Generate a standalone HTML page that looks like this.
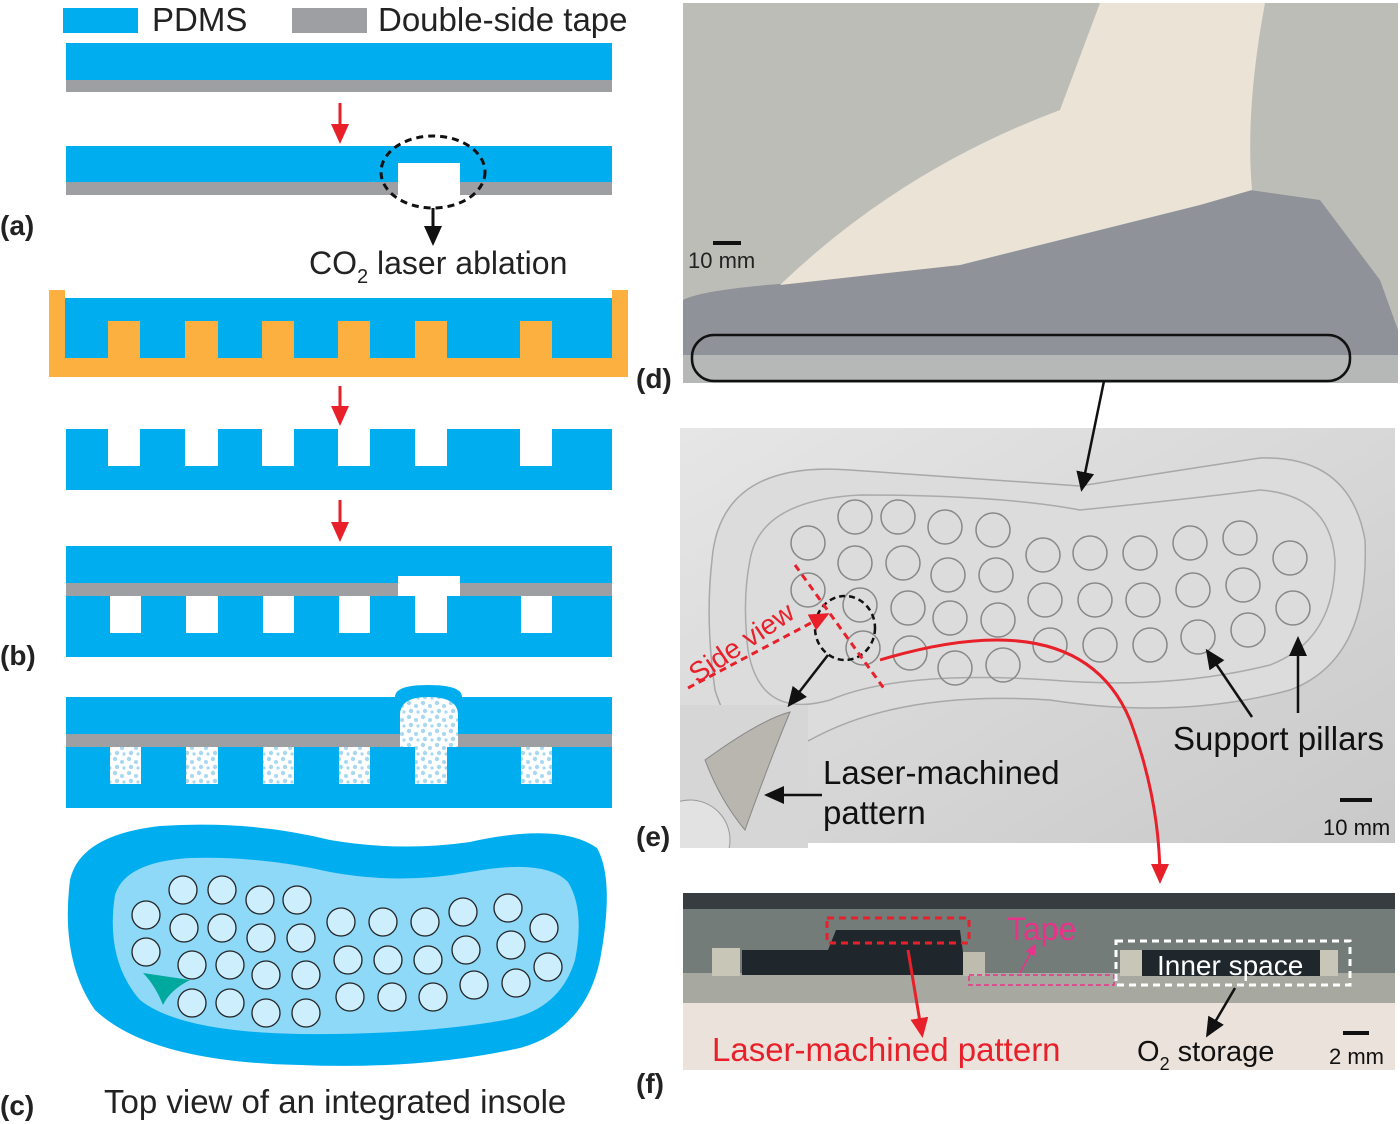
<!DOCTYPE html>
<html><head><meta charset="utf-8"><style>
html,body{margin:0;padding:0;background:#fff}
svg{display:block}
text{font-family:"Liberation Sans",Arial,sans-serif}
</style></head><body>
<svg width="1400" height="1124" viewBox="0 0 1400 1124" xmlns="http://www.w3.org/2000/svg">
<defs>
<marker id="ar" markerWidth="20" markerHeight="20" refX="16" refY="9" orient="auto" markerUnits="userSpaceOnUse"><path d="M0,0 L20,9 L0,18 Z" fill="#e8202a"/></marker>
<marker id="ak" markerWidth="20" markerHeight="20" refX="16" refY="9" orient="auto" markerUnits="userSpaceOnUse"><path d="M0,0 L20,9 L0,18 Z" fill="#111"/></marker>
<marker id="am" markerWidth="12" markerHeight="12" refX="10" refY="5" orient="auto" markerUnits="userSpaceOnUse"><path d="M0,0 L12,5 L0,10 Z" fill="#e8338a"/></marker>
<pattern id="dots" width="14" height="14" patternUnits="userSpaceOnUse"><rect width="14" height="14" fill="#fff"/><circle cx="3" cy="3" r="2.2" fill="#a8d8f0"/><circle cx="10" cy="6" r="2" fill="#a8d8f0"/><circle cx="5" cy="11" r="2.2" fill="#a8d8f0"/><circle cx="12" cy="12" r="1.6" fill="#a8d8f0"/></pattern>
<linearGradient id="ge" x1="0" y1="0" x2="1" y2="1"><stop offset="0" stop-color="#e6e6e6"/><stop offset="1" stop-color="#c9c9c9"/></linearGradient>
<clipPath id="ci"><rect x="680" y="705" width="128" height="143"/></clipPath>
</defs>

<!-- legend -->
<rect x="63" y="8" width="75" height="25" fill="#00aeef"/>
<text x="152" y="31" font-size="33" fill="#222">PDMS</text>
<rect x="292" y="8" width="75" height="25" fill="#9d9fa2"/>
<text x="378" y="31" font-size="33" fill="#222">Double-side tape</text>

<!-- a -->
<rect x="66" y="43" width="546" height="37" fill="#00aeef"/>
<rect x="66" y="80" width="546" height="12" fill="#9d9fa2"/>
<line x1="340" y1="103" x2="340" y2="140" stroke="#e8202a" stroke-width="3" marker-end="url(#ar)"/>
<rect x="66" y="146" width="546" height="36" fill="#00aeef"/>
<rect x="66" y="182" width="546" height="13" fill="#9d9fa2"/>
<rect x="398" y="163" width="62" height="32" fill="#fff"/>
<ellipse cx="433" cy="172" rx="52" ry="36" fill="none" stroke="#111" stroke-width="3" stroke-dasharray="7,5"/>
<line x1="433" y1="208" x2="433" y2="242" stroke="#111" stroke-width="3" marker-end="url(#ak)"/>
<text x="309" y="274" font-size="32" fill="#222">CO<tspan font-size="20" dy="9">2</tspan><tspan dy="-9"> laser ablation</tspan></text>
<text x="0" y="235" font-size="28" font-weight="bold" fill="#222">(a)</text>

<!-- mold -->
<rect x="49" y="290" width="16" height="87" fill="#fbb040"/>
<rect x="612" y="290" width="16" height="87" fill="#fbb040"/>
<rect x="49" y="358" width="579" height="19" fill="#fbb040"/>
<rect x="65" y="298" width="547" height="60" fill="#00aeef"/>
<g fill="#fbb040">
<rect x="108" y="321" width="32" height="37"/><rect x="185" y="321" width="33" height="37"/><rect x="262" y="321" width="32" height="37"/><rect x="338" y="321" width="32" height="37"/><rect x="415" y="321" width="32" height="37"/><rect x="520" y="321" width="32" height="37"/>
</g>
<line x1="340" y1="386" x2="340" y2="422" stroke="#e8202a" stroke-width="3" marker-end="url(#ar)"/>
<rect x="66" y="429" width="546" height="61" fill="#00aeef"/>
<g fill="#fff">
<rect x="108" y="429" width="32" height="37"/><rect x="185" y="429" width="33" height="37"/><rect x="262" y="429" width="32" height="37"/><rect x="338" y="429" width="32" height="37"/><rect x="415" y="429" width="32" height="37"/><rect x="520" y="429" width="32" height="37"/>
</g>
<line x1="340" y1="500" x2="340" y2="538" stroke="#e8202a" stroke-width="3" marker-end="url(#ar)"/>

<!-- assembly -->
<rect x="66" y="546" width="546" height="37" fill="#00aeef"/>
<rect x="66" y="583" width="546" height="13" fill="#9d9fa2"/>
<rect x="66" y="596" width="546" height="61" fill="#00aeef"/>
<g fill="#fff">
<rect x="110" y="596" width="31" height="37"/><rect x="186" y="596" width="32" height="37"/><rect x="263" y="596" width="31" height="37"/><rect x="339" y="596" width="31" height="37"/><rect x="415" y="596" width="32" height="37"/><rect x="521" y="596" width="31" height="37"/>
<rect x="398" y="576" width="62" height="20"/>
</g>
<text x="0" y="665" font-size="28" font-weight="bold" fill="#222">(b)</text>

<!-- filled -->
<path d="M395,697 Q395,685 428,685 Q462,685 462,697 Z" fill="#00aeef"/>
<rect x="66" y="697" width="546" height="37" fill="#00aeef"/>
<rect x="66" y="734" width="546" height="13" fill="#9d9fa2"/>
<rect x="66" y="747" width="546" height="61" fill="#00aeef"/>
<g fill="url(#dots)">
<rect x="110" y="747" width="31" height="37"/><rect x="186" y="747" width="32" height="37"/><rect x="263" y="747" width="31" height="37"/><rect x="339" y="747" width="31" height="37"/><rect x="415" y="747" width="32" height="37"/><rect x="521" y="747" width="31" height="37"/>
<path d="M400,747 L400,715 Q400,697 428,697 Q458,697 458,715 L458,747 Z"/>
</g>

<!-- c -->
<path d="M70,880 Q80,835 160,826 Q250,820 330,840 Q400,852 470,842 Q560,822 597,848 Q615,880 600,960 Q585,1030 520,1048 Q420,1070 300,1065 Q150,1062 95,1010 Q60,960 70,880 Z" fill="#00aeef"/>
<path d="M115,895 Q125,862 190,858 Q260,856 330,872 Q400,885 470,872 Q545,858 568,882 Q585,910 575,960 Q560,1010 505,1020 Q420,1035 300,1034 Q180,1032 140,1000 Q105,960 115,895 Z" fill="#8ed8f8"/>
<g fill="#cdeefc" stroke="#222" stroke-width="1.3">
<circle cx="183" cy="890" r="14"/><circle cx="222" cy="890" r="14"/><circle cx="260" cy="900" r="14"/><circle cx="297" cy="900" r="14"/>
<circle cx="146" cy="915" r="14"/><circle cx="184" cy="928" r="14"/><circle cx="222" cy="928" r="14"/><circle cx="261" cy="938" r="14"/><circle cx="301" cy="938" r="14"/><circle cx="341" cy="922" r="14"/><circle cx="383" cy="922" r="14"/><circle cx="425" cy="922" r="14"/><circle cx="463" cy="912" r="14"/><circle cx="508" cy="908" r="14"/>
<circle cx="146" cy="952" r="14"/><circle cx="192" cy="965" r="14"/><circle cx="230" cy="965" r="14"/><circle cx="266" cy="975" r="14"/><circle cx="306" cy="975" r="14"/><circle cx="348" cy="960" r="14"/><circle cx="388" cy="960" r="14"/><circle cx="428" cy="960" r="14"/><circle cx="466" cy="950" r="14"/><circle cx="511" cy="945" r="14"/><circle cx="544" cy="928" r="14"/>
<circle cx="192" cy="1003" r="14"/><circle cx="230" cy="1003" r="14"/><circle cx="266" cy="1013" r="14"/><circle cx="306" cy="1013" r="14"/><circle cx="350" cy="997" r="14"/><circle cx="392" cy="997" r="14"/><circle cx="433" cy="997" r="14"/><circle cx="474" cy="985" r="14"/><circle cx="516" cy="983" r="14"/><circle cx="548" cy="967" r="14"/>
</g>
<path d="M143,973 L190,980 Q170,990 163,1005 Q155,985 143,973 Z" fill="#00a99d"/>
<text x="104" y="1113" font-size="33" fill="#222">Top view of an integrated insole</text>
<text x="0" y="1115" font-size="28" font-weight="bold" fill="#222">(c)</text>

<!-- d photo -->
<rect x="683" y="3" width="715" height="380" fill="#bdbdb8"/>
<path d="M683,300 Q700,290 790,283 L960,265 L1250,190 L1320,200 L1380,280 L1398,330 L1398,365 L683,365 Z" fill="#8f9298"/>
<path d="M1100,3 L1265,3 Q1245,110 1252,190 L1200,205 L960,265 L780,285 Q900,170 1060,110 Z" fill="#ebe3d6"/>
<rect x="683" y="355" width="715" height="28" fill="#b6b8b7"/>
<rect x="692" y="335" width="658" height="46" rx="22" fill="none" stroke="#111" stroke-width="2.5"/>
<rect x="713" y="241" width="28" height="4" fill="#111"/>
<text x="688" y="268" font-size="22" fill="#222">10 mm</text>
<text x="636" y="388" font-size="28" font-weight="bold" fill="#222">(d)</text>

<!-- e photo -->
<rect x="680" y="428" width="715" height="415" fill="url(#ge)"/>
<path d="M712,560 Q720,460 850,470 Q1000,480 1080,486 Q1180,470 1260,458 Q1350,455 1365,540 Q1370,660 1290,690 Q1180,720 1050,700 Q900,690 810,740 Q740,770 715,690 Q705,620 712,560 Z" fill="#dcdcdc" stroke="#a8a8a8" stroke-width="1.5"/>
<path d="M750,560 Q760,500 860,495 Q1000,495 1080,510 Q1180,500 1260,490 Q1330,495 1335,560 Q1335,640 1270,665 Q1170,690 1050,680 Q900,670 830,700 Q760,720 748,650 Q742,600 750,560 Z" fill="none" stroke="#aaa" stroke-width="1.5"/>
<g fill="none" stroke="#888" stroke-width="1.5">
<circle cx="808" cy="543" r="17"/><circle cx="855" cy="517" r="17"/><circle cx="898" cy="517" r="17"/><circle cx="945" cy="527" r="17"/><circle cx="993" cy="530" r="17"/>
<circle cx="808" cy="590" r="17"/><circle cx="855" cy="563" r="17"/><circle cx="903" cy="563" r="17"/><circle cx="948" cy="575" r="17"/><circle cx="996" cy="575" r="17"/><circle cx="1043" cy="555" r="17"/><circle cx="1090" cy="553" r="17"/><circle cx="1140" cy="553" r="17"/><circle cx="1190" cy="543" r="17"/><circle cx="1240" cy="538" r="17"/><circle cx="1290" cy="558" r="17"/>
<circle cx="860" cy="605" r="17"/><circle cx="908" cy="608" r="17"/><circle cx="950" cy="618" r="17"/><circle cx="998" cy="620" r="17"/><circle cx="1045" cy="600" r="17"/><circle cx="1095" cy="600" r="17"/><circle cx="1143" cy="600" r="17"/><circle cx="1193" cy="590" r="17"/><circle cx="1243" cy="585" r="17"/><circle cx="1293" cy="608" r="17"/>
<circle cx="863" cy="648" r="17"/><circle cx="910" cy="653" r="17"/><circle cx="955" cy="668" r="17"/><circle cx="1003" cy="665" r="17"/><circle cx="1050" cy="645" r="17"/><circle cx="1100" cy="645" r="17"/><circle cx="1150" cy="645" r="17"/><circle cx="1198" cy="637" r="17"/><circle cx="1248" cy="630" r="17"/>
</g>
<ellipse cx="845" cy="628" rx="30" ry="32" fill="none" stroke="#111" stroke-width="2.5" stroke-dasharray="6,4"/>
<line x1="795" y1="565" x2="885" y2="690" stroke="#e8202a" stroke-width="3" stroke-dasharray="7,5"/>
<line x1="688" y1="688" x2="826" y2="615" stroke="#e8202a" stroke-width="3" stroke-dasharray="7,5" marker-end="url(#ar)"/>
<text x="0" y="0" font-size="28" fill="#e8202a" transform="translate(697,684) rotate(-34)">Side view</text>
<rect x="680" y="705" width="128" height="143" fill="#d6d6d6"/>
<g clip-path="url(#ci)">
<circle cx="690" cy="840" r="40" fill="#e2e2e2" stroke="#999"/>
<path d="M705,760 Q760,720 790,712 Q770,760 745,830 Q720,800 705,760 Z" fill="#b9b6b0" stroke="#888"/>
</g>
<line x1="828" y1="655" x2="790" y2="704" stroke="#111" stroke-width="2.5" marker-end="url(#ak)"/>
<line x1="1252" y1="717" x2="1208" y2="652" stroke="#111" stroke-width="2.5" marker-end="url(#ak)"/>
<line x1="1298" y1="713" x2="1298" y2="640" stroke="#111" stroke-width="2.5" marker-end="url(#ak)"/>
<text x="1173" y="750" font-size="33" fill="#111">Support pillars</text>
<line x1="822" y1="795" x2="768" y2="795" stroke="#111" stroke-width="2.5" marker-end="url(#ak)"/>
<text x="823" y="784" font-size="33" fill="#111">Laser-machined</text>
<text x="823" y="824" font-size="33" fill="#111">pattern</text>
<rect x="1340" y="798" width="32" height="4" fill="#111"/>
<text x="1323" y="835" font-size="22" fill="#111">10 mm</text>
<text x="636" y="846" font-size="28" font-weight="bold" fill="#222">(e)</text>

<!-- arrow d->e -->
<line x1="1104" y1="381" x2="1082" y2="488" stroke="#111" stroke-width="2.5" marker-end="url(#ak)"/>

<!-- f photo -->
<rect x="683" y="893" width="712" height="177" fill="#ece2dc"/>
<rect x="683" y="893" width="712" height="16" fill="#363c40"/>
<rect x="683" y="909" width="712" height="64" fill="#747c7a"/>
<rect x="683" y="973" width="712" height="30" fill="#a7a89f"/>
<rect x="712" y="948" width="28" height="28" fill="#c8c6b6"/>
<path d="M742,950 L828,950 L836,930 L960,930 L966,975 L742,975 Z" fill="#20272c"/>
<rect x="963" y="952" width="22" height="24" fill="#bdbcae"/>
<rect x="1120" y="950" width="22" height="26" fill="#c8c6b6"/>
<rect x="1142" y="950" width="180" height="26" fill="#20272c"/>
<rect x="1320" y="950" width="18" height="26" fill="#c8c6b6"/>
<rect x="827" y="918" width="142" height="25" fill="none" stroke="#e8202a" stroke-width="3" stroke-dasharray="7,5"/>
<rect x="969" y="975" width="145" height="10" fill="none" stroke="#e8338a" stroke-width="1.5" stroke-dasharray="5,3"/>
<line x1="1020" y1="973" x2="1035" y2="945" stroke="#e8338a" stroke-width="1.5" marker-end="url(#am)"/>
<text x="1007" y="940" font-size="32" fill="#e8338a">Tape</text>
<rect x="1116" y="941" width="234" height="44" fill="none" stroke="#fff" stroke-width="3" stroke-dasharray="7,5"/>
<text x="1157" y="975" font-size="28" fill="#fff">Inner space</text>
<line x1="908" y1="950" x2="922" y2="1034" stroke="#e8202a" stroke-width="3" marker-end="url(#ar)"/>
<text x="712" y="1061" font-size="33" fill="#e8202a">Laser-machined pattern</text>
<line x1="1235" y1="988" x2="1208" y2="1034" stroke="#111" stroke-width="2.5" marker-end="url(#ak)"/>
<text x="1137" y="1061" font-size="29" fill="#111">O<tspan font-size="18" dy="9">2</tspan><tspan dy="-9"> storage</tspan></text>
<rect x="1343" y="1031" width="26" height="4" fill="#111"/>
<text x="1329" y="1064" font-size="22" fill="#111">2 mm</text>
<text x="636" y="1093" font-size="28" font-weight="bold" fill="#222">(f)</text>

<!-- red curve e->f -->
<path d="M880,660 Q1080,600 1130,720 Q1160,800 1160,880" fill="none" stroke="#e8202a" stroke-width="3" marker-end="url(#ar)"/>
</svg>
</body></html>
